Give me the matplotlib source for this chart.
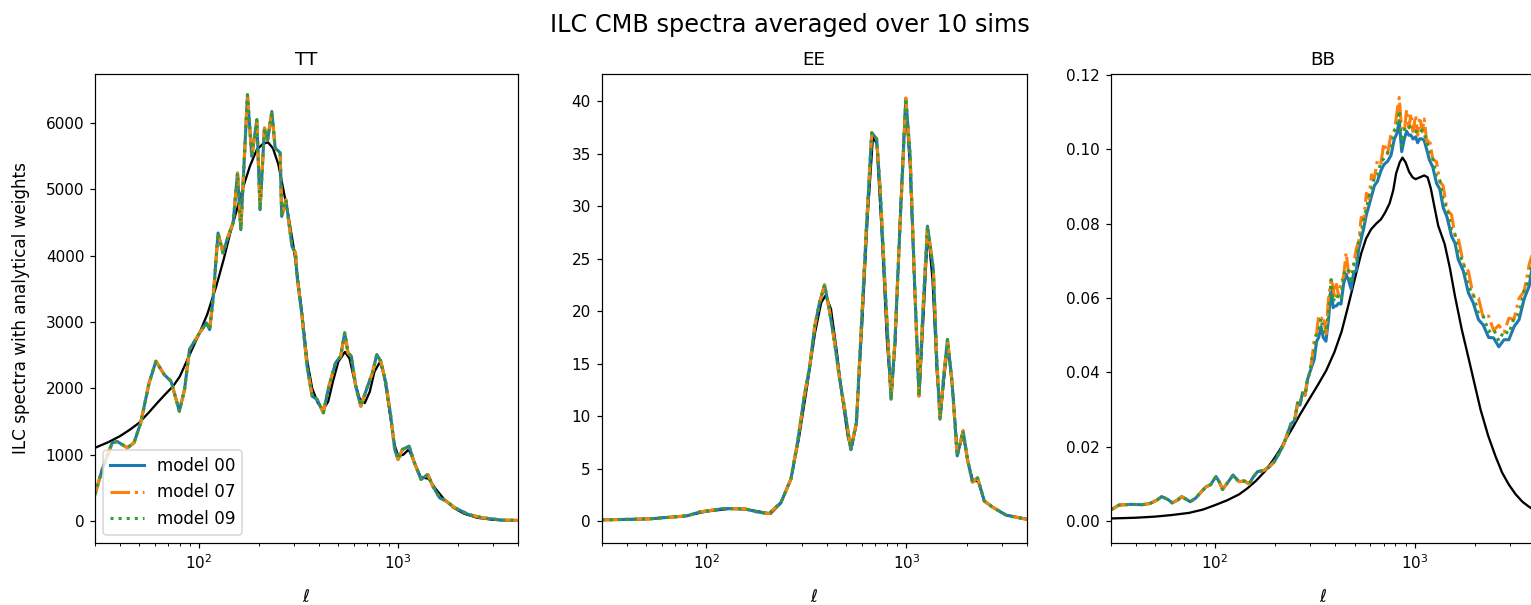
import matplotlib
matplotlib.use("Agg")
import matplotlib.pyplot as plt

# --- TT ---
tt_ell = [30, 32.6, 36.6, 38.8, 43.6, 47.1, 50.9, 56.1, 60.7, 66.8,
          72.3, 79.6, 84.5, 89.5, 100.6, 108.8, 113, 117.5, 124.5, 131.9,
          139.9, 148.2, 156, 162, 175, 184, 195, 202.5, 213, 221,
          232, 241, 255.6, 260, 273, 293, 305, 310.6, 329, 348.7,
          369.9, 392, 420.7, 449, 485, 514, 539, 560, 582, 612,
          649, 675, 702, 743, 781, 818, 867, 918, 961, 999,
          1051, 1135, 1206, 1304, 1409, 1493, 1614, 1745, 1924, 2250,
          2633, 3333, 4100]
tt_sim = [402, 779, 1181, 1200, 1105, 1180, 1482, 2084, 2410, 2209,
          2108, 1657, 1983, 2586, 2837, 2988, 2887, 3339, 4343, 4042,
          4292, 4494, 5247, 4393, 6426, 5497, 6050, 4694, 5925, 5749,
          6175, 5623, 5553, 4593, 4845, 4142, 4042, 3690, 3087, 2334,
          1883, 1833, 1633, 2033, 2386, 2485, 2837, 2536, 2485, 2033,
          1732, 1883, 2033, 2235, 2511, 2410, 2084, 1581, 1080, 929,
          1080, 1130, 880, 628, 703, 527, 352, 301, 202, 101,
          51, 15, 10]
tt_th_ell = [30, 35, 40, 45, 50, 56, 62, 68, 74, 80,
             90, 100, 110, 122, 133, 143, 155, 167, 180, 195,
             210, 222, 235, 250, 265, 282, 298, 315, 330, 350,
             370, 395, 420, 445, 470, 500, 540, 570, 600, 640,
             680, 720, 760, 810, 850, 900, 960, 1000, 1060, 1130,
             1200, 1300, 1420, 1550, 1700, 1900, 2150, 2500, 3000, 3500,
             4100]
tt_th = [1105, 1190, 1280, 1380, 1482, 1640, 1790, 1920, 2033, 2180,
         2520, 2820, 3120, 3540, 3950, 4330, 4700, 5045, 5350, 5600,
         5690, 5710, 5620, 5380, 5000, 4580, 4140, 3600, 3100, 2400,
         2000, 1780, 1680, 1800, 2100, 2400, 2550, 2450, 2150, 1850,
         1780, 1950, 2250, 2400, 2200, 1700, 1150, 980, 1000, 1080,
         900, 660, 640, 480, 330, 200, 110, 50, 20, 10,
         6]

# --- EE ---
ee_ell = [30, 52, 80, 93, 122, 154, 180, 206, 236, 265,
          286, 309, 328, 348, 368, 390, 413, 438, 464, 492,
          527, 563, 597, 633, 671, 710, 739, 783, 838, 877,
          930, 993, 1043, 1095, 1155, 1213, 1274, 1362, 1414, 1471,
          1530, 1603, 1690, 1793, 1918, 2016, 2137, 2265, 2448, 2700,
          3150, 3960, 4100]
ee_sim = [0.1, 0.2, 0.48, 0.86, 1.18, 1.18, 0.86, 0.7, 1.75, 4.0,
          7.5, 11.9, 14.6, 18.5, 20.8, 22.5, 20.0, 17.0, 13.5, 10.6,
          6.8, 9.4, 18.9, 28.4, 37.0, 36.4, 31.6, 22.1, 11.6, 17.3,
          28.4, 40.3, 34.8, 23.3, 11.9, 20.5, 28.1, 24.0, 15.7, 9.7,
          13.5, 17.3, 13.2, 6.2, 8.6, 5.9, 3.7, 4.1, 1.9, 1.3,
          0.55, 0.17, 0.15]
ee_th_ell = [30, 52, 80, 100, 130, 160, 190, 210, 236, 265,
             290, 320, 350, 375, 395, 420, 450, 480, 510, 530,
             560, 600, 640, 680, 710, 750, 800, 840, 880, 930,
             990, 1040, 1100, 1160, 1220, 1280, 1350, 1420, 1480, 1540,
             1610, 1700, 1800, 1920, 2030, 2150, 2280, 2450, 2700, 3150,
             4100]
ee_th = [0.1, 0.2, 0.5, 0.9, 1.15, 1.1, 0.85, 0.7, 1.7, 4.0,
         7.8, 13.0, 18.0, 20.8, 21.5, 20.2, 16.0, 11.5, 8.0, 6.8,
         9.0, 18.5, 29.0, 36.6, 36.0, 28.0, 17.0, 11.8, 17.0, 29.0,
         40.0, 34.0, 22.0, 12.0, 20.0, 27.8, 23.0, 14.0, 10.0, 13.5,
         16.8, 12.5, 6.5, 8.2, 5.6, 3.8, 3.8, 1.9, 1.3, 0.55,
         0.15]

# --- BB ---
bb_ell_low = [30, 33, 38, 43, 47, 51, 54, 58, 61, 65,
              68, 72, 75, 80, 85, 90, 95, 101, 105, 109,
              115, 123, 128, 132, 140, 148, 155, 163, 175, 187,
              198, 209, 220, 232, 240, 250, 259, 266, 274, 282,
              290, 298]
bb_low = [0.0030, 0.0043, 0.0045, 0.0044, 0.0047, 0.0056, 0.0066, 0.0058, 0.0049, 0.0057,
          0.0066, 0.0058, 0.0052, 0.0062, 0.0078, 0.0092, 0.0098, 0.0120, 0.0105, 0.0085,
          0.0102, 0.0124, 0.0113, 0.0106, 0.0108, 0.0100, 0.0118, 0.0133, 0.0136, 0.0146,
          0.0160, 0.0182, 0.0205, 0.0240, 0.0262, 0.0270, 0.0318, 0.0312, 0.0345, 0.0338,
          0.0380, 0.0400]
bb_ell_high = [306, 314, 322, 330, 339, 348, 359, 370, 381, 390,
               396, 405, 415, 427, 440, 453, 466, 480, 494, 509,
               524, 539, 555, 572, 589, 607, 628, 650, 677, 700,
               731, 760, 790, 815, 836, 860, 886, 910, 935, 956,
               980, 1010, 1033, 1060, 1090, 1115, 1150, 1183, 1230, 1285,
               1335, 1387, 1450, 1529, 1590, 1651, 1750, 1856, 1960, 2085,
               2200, 2345, 2480, 2635, 2800, 2960, 3140, 3330, 3530, 3740,
               3950, 4000]
bb_high_00 = [0.0418, 0.0436, 0.0483, 0.0494, 0.0523, 0.0494, 0.0484, 0.0544, 0.0628, 0.0574,
              0.0578, 0.0579, 0.0586, 0.0584, 0.0638, 0.0664, 0.0648, 0.0624, 0.0668, 0.0674,
              0.0733, 0.0759, 0.0788, 0.0824, 0.0848, 0.0874, 0.0903, 0.0914, 0.0943, 0.0959,
              0.0968, 0.0984, 0.1028, 0.1044, 0.1078, 0.0994, 0.1028, 0.1049, 0.1038, 0.1039,
              0.1028, 0.1034, 0.1018, 0.1029, 0.1028, 0.1024, 0.0998, 0.0972, 0.0953, 0.0909,
              0.0893, 0.0844, 0.0818, 0.0766, 0.0748, 0.0704, 0.0673, 0.0614, 0.0588, 0.0542,
              0.0528, 0.0494, 0.0493, 0.0469, 0.0488, 0.0488, 0.0523, 0.0542, 0.0598, 0.0632,
              0.0713, 0.0724]
bb_high_07 = [0.0438, 0.0492, 0.0503, 0.0552, 0.0543, 0.0552, 0.0504, 0.0602, 0.0648, 0.0632,
              0.0598, 0.0637, 0.0606, 0.0642, 0.0658, 0.0722, 0.0668, 0.0682, 0.0688, 0.0732,
              0.0753, 0.0817, 0.0808, 0.0882, 0.0868, 0.0932, 0.0923, 0.0972, 0.0963, 0.1017,
              0.0988, 0.1042, 0.1048, 0.1102, 0.1140, 0.1052, 0.1048, 0.1107, 0.1058, 0.1097,
              0.1048, 0.1092, 0.1038, 0.1087, 0.1048, 0.1082, 0.1018, 0.1030, 0.0973, 0.0967,
              0.0913, 0.0902, 0.0838, 0.0824, 0.0768, 0.0762, 0.0693, 0.0672, 0.0608, 0.0600,
              0.0548, 0.0552, 0.0513, 0.0527, 0.0508, 0.0546, 0.0543, 0.0600, 0.0618, 0.0690,
              0.0733, 0.0760]
bb_high_09 = [0.0442, 0.0452, 0.0508, 0.0512, 0.0546, 0.0510, 0.0506, 0.0560, 0.0650, 0.0590,
              0.0600, 0.0595, 0.0610, 0.0600, 0.0662, 0.0680, 0.0672, 0.0640, 0.0692, 0.0690,
              0.0757, 0.0775, 0.0812, 0.0840, 0.0872, 0.0890, 0.0927, 0.0930, 0.0967, 0.0975,
              0.0992, 0.1000, 0.1052, 0.1060, 0.1105, 0.1010, 0.1052, 0.1065, 0.1062, 0.1055,
              0.1052, 0.1050, 0.1042, 0.1045, 0.1052, 0.1040, 0.1022, 0.0988, 0.0977, 0.0925,
              0.0917, 0.0860, 0.0842, 0.0782, 0.0772, 0.0720, 0.0697, 0.0630, 0.0612, 0.0558,
              0.0552, 0.0510, 0.0517, 0.0485, 0.0512, 0.0504, 0.0547, 0.0558, 0.0622, 0.0648,
              0.0737, 0.0740]
bb_th_ell = [30, 40, 50, 60, 74, 87, 100, 115, 132, 145,
             160, 177, 194, 210, 226, 245, 265, 290, 326, 360,
             396, 430, 462, 500, 539, 570, 604, 640, 677, 710,
             748, 780, 806, 840, 868, 900, 936, 975, 1010, 1060,
             1115, 1160, 1203, 1255, 1310, 1360, 1412, 1500, 1590, 1720,
             1856, 2000, 2135, 2330, 2534, 2740, 2960, 3200, 3460, 3700,
             4000]
bb_th = [0.0007, 0.0009, 0.0012, 0.0016, 0.0022, 0.0031, 0.0043, 0.0056, 0.0072, 0.0088,
         0.0108, 0.0133, 0.0162, 0.0190, 0.0220, 0.0252, 0.0285, 0.0320, 0.0365, 0.0405,
         0.0455, 0.0510, 0.0575, 0.0650, 0.0720, 0.0760, 0.0785, 0.0800, 0.0812, 0.0830,
         0.0855, 0.0890, 0.0935, 0.0965, 0.0978, 0.0965, 0.0940, 0.0925, 0.0920, 0.0925,
         0.0930, 0.0925, 0.0895, 0.0845, 0.0795, 0.0770, 0.0745, 0.0680, 0.0605, 0.0515,
         0.0440, 0.0365, 0.0300, 0.0230, 0.0175, 0.0130, 0.0098, 0.0072, 0.0052, 0.0040,
         0.0028]

models = ["model 00", "model 07", "model 09"]
styles = ["-", "-.", ":"]
colors = ["C0", "C1", "C2"]

W, H, DPI = 1531, 605, 110
fig = plt.figure(figsize=(W / DPI, H / DPI), dpi=DPI)


def box(left, right, top=74, bottom=543):
    return [left / W, 1 - bottom / H, (right - left) / W, (bottom - top) / H]


ax_tt = fig.add_axes(box(95, 518))
ax_ee = fig.add_axes(box(601.5, 1027))
ax_bb = fig.add_axes(box(1110.7, 1535))
LW = 2.0

# TT
ax_tt.plot(tt_th_ell, tt_th, color="k", lw=1.5)
for m, ls, c in zip(models, styles, colors):
    ax_tt.plot(tt_ell, tt_sim, ls=ls, color=c, lw=LW, label=m)
ax_tt.set_ylim(-330, 6740)
ax_tt.set_title("TT")
ax_tt.set_ylabel("ILC spectra with analytical weights", fontsize=11, labelpad=10)
ax_tt.legend(loc="lower left", fontsize=11)

# EE
ax_ee.plot(ee_th_ell, ee_th, color="k", lw=1.5)
for m, ls, c in zip(models, styles, colors):
    ax_ee.plot(ee_ell, ee_sim, ls=ls, color=c, lw=LW, label=m)
ax_ee.set_ylim(-2.1, 42.6)
ax_ee.set_title("EE")

# BB
ax_bb.plot(bb_th_ell, bb_th, color="k", lw=1.5)
for m, ls, c, hi in zip(models, styles, colors, [bb_high_00, bb_high_07, bb_high_09]):
    ax_bb.plot(bb_ell_low + bb_ell_high, bb_low + hi, ls=ls, color=c, lw=LW, label=m)
ax_bb.set_ylim(-0.0059, 0.1203)
ax_bb.set_title("BB")

for ax in (ax_tt, ax_ee, ax_bb):
    ax.set_xscale("log")
    ax.set_xlim(30, 4000)
    ax.set_xlabel(r"$\ell$", fontsize=11, labelpad=10)

fig.suptitle("ILC CMB spectra averaged over 10 sims", x=790 / W, y=0.978, fontsize=15.7)

fig.savefig("out.png", dpi=DPI)
